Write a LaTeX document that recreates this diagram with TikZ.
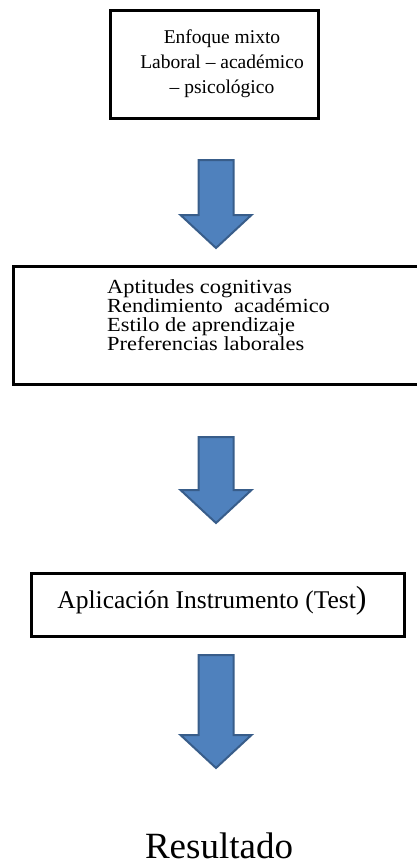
\documentclass[tikz,border=0pt]{standalone}
\usepackage{fontspec}
\setmainfont{Liberation Serif}
\newfontfamily\widefont[FakeStretch=1.12]{Liberation Serif}
\tikzset{
  framebox/.style={draw=black, line width=3pt, fill=white},
  blockarrow/.style={draw={rgb,255:red,56;green,93;blue,138}, line width=2pt, fill={rgb,255:red,79;green,129;blue,189}, line join=miter},
  txt/.style={inner sep=0pt, anchor=base},
}
\newcommand\blockarr[5]{% name, x, top, headstart, tip
  \coordinate (#1-top) at (#2,#3);
  \coordinate (#1-tip) at (#2,#5);
  \draw[blockarrow] ([xshift=-17.5pt]#1-top) -- ([xshift=17.5pt]#1-top) -- (#2+17.5,#4) -- (#2+35.5,#4) -- (#1-tip) -- (#2-35.5,#4) -- (#2-17.5,#4) -- cycle;
}
\begin{document}
\begin{tikzpicture}[x=1pt,y=-1pt]
\useasboundingbox (0,0) rectangle (417,865);
\clip (0,0) rectangle (417,865);
% box 1
\node[framebox, minimum width=208pt, minimum height=108pt, anchor=north west] (b1) at (109,9) {};
\node[txt, font=\fontsize{19.5}{25}\selectfont] (t1a) at (222,43) {Enfoque mixto};
\node[txt, font=\fontsize{19.5}{25}\selectfont] (t1b) at (222,68) {Laboral – académico};
\node[txt, font=\fontsize{19.5}{25}\selectfont] (t1c) at (222,93) {– psicológico};
% arrow 1
\blockarr{a1}{216}{160}{215}{248}
% box 2
\node[framebox, minimum width=420pt, minimum height=118pt, anchor=north west] (b2) at (12,265) {};
\node[inner sep=0pt, anchor=north west, align=left, font=\widefont\fontsize{20}{19}\selectfont] (t2) at (107,279.5) {Aptitudes cognitivas\\Rendimiento\ \ académico\\Estilo de aprendizaje\\Preferencias laborales};
% arrow 2
\blockarr{a2}{216}{437}{490}{523}
% box 3
\node[framebox, minimum width=373pt, minimum height=63pt, anchor=north west] (b3) at (30,572) {};
\node[txt, font=\fontsize{25.5}{28}\selectfont] (t3) at (212,608) {Aplicación\ Instrumento (Test{\fontsize{32}{32}\selectfont )}};
% arrow 3
\blockarr{a3}{216}{655}{735}{768}
% result
\node[txt, font=\fontsize{37}{40}\selectfont] (res) at (219,858) {Resultado};
\end{tikzpicture}
\end{document}
